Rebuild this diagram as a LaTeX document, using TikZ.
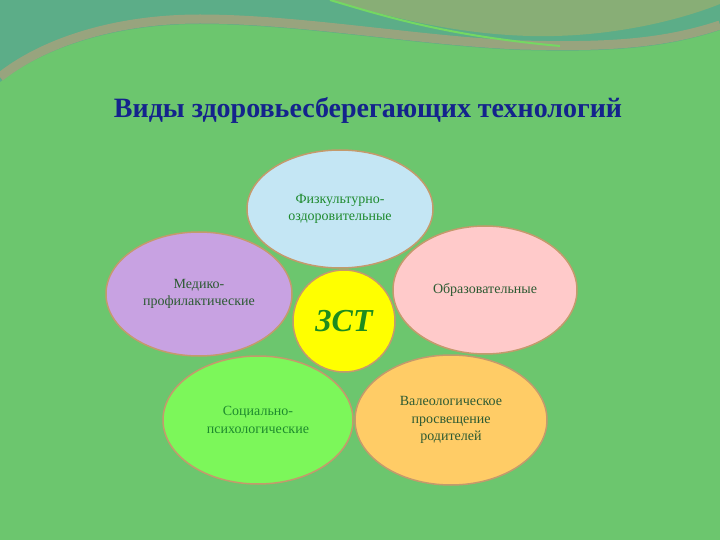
\documentclass[tikz,border=0pt]{standalone}
\usepackage{fontspec}
\setmainfont{Liberation Serif}
\usepackage{xcolor}
\definecolor{bg}{HTML}{6CC66E}
\definecolor{teal}{HTML}{5CAD88}
\definecolor{khaki}{HTML}{88AE76}
\definecolor{band}{HTML}{98A47E}
\definecolor{swoosh}{HTML}{74D862}
\definecolor{rim}{HTML}{C49A6C}
\definecolor{sky}{HTML}{C4E6F4}
\definecolor{lilac}{HTML}{C8A2E2}
\definecolor{rose}{HTML}{FFCACA}
\definecolor{lime}{HTML}{7CF75A}
\definecolor{apricot}{HTML}{FFCC66}
\definecolor{sun}{HTML}{FFFF00}
\definecolor{navy}{HTML}{14238C}
\definecolor{ink}{HTML}{2C5A32}
\definecolor{inkgreen}{HTML}{1E8A2E}
\definecolor{zst}{HTML}{1E8C1E}
\usetikzlibrary{shapes.geometric}

\begin{document}
\begin{tikzpicture}[x=1pt, y=-1pt,
    petal/.style={ellipse, draw=rim, line width=1.5pt, inner sep=0pt, align=center,
      font=\fontsize{14}{17.5}\selectfont}]
            \useasboundingbox (0,0) rectangle (720,540);
            \fill[bg] (0,0) rectangle (720,540);

            % top decoration
            \fill[teal] (0,0) -- (720,0) -- (720,30)
                .. controls (660,50) and (600,52) .. (520,50)
                .. controls (420,46) and (300,24) .. (200,24)
                .. controls (110,24) and (40,50) .. (0,82) -- cycle;
            \draw[band, line width=9pt] (720,25)
                .. controls (660,45) and (600,47) .. (520,45)
                .. controls (420,41) and (300,19) .. (200,19)
                .. controls (110,19) and (40,45) .. (0,77);
            \fill[khaki] (330,0) .. controls (400,20) and (460,34) .. (530,36)
                .. controls (610,38) and (680,20) .. (720,4) -- (720,0) -- cycle;
            \draw[swoosh, line width=2pt] (330,0) .. controls (390,18) and (450,36) .. (560,46);

            \node (title) at (368,110) [text=navy] {\bfseries\fontsize{28}{30}\selectfont Виды здоровьесберегающих технологий};

            \foreach \name/\x/\y/\w/\h/\col/\ink/\txt in {
                fiz/340/209/186/118/sky/inkgreen/{Физкультурно-\\оздоровительные},
                med/199/294/186/124/lilac/ink/{Медико-\\профилактические},
                obr/485/290/184/128/rose/ink/{Образовательные},
                soc/258/420/190/128/lime/inkgreen/{Социально-\\психологические},
                val/451/420/192/130/apricot/ink/{Валеологическое\\просвещение\\родителей}} {
                \node (\name) at (\x,\y) [petal, fill=\col, text=\ink, minimum width=\w, minimum height=\h] {\txt};
            }

            \node (core) at (344,321) [circle, draw=rim, line width=1.5pt, fill=sun, minimum size=102,
                text=zst, font=\bfseries\itshape\fontsize{32}{36}\selectfont] {ЗСТ};
        \end{tikzpicture}
\end{document}
